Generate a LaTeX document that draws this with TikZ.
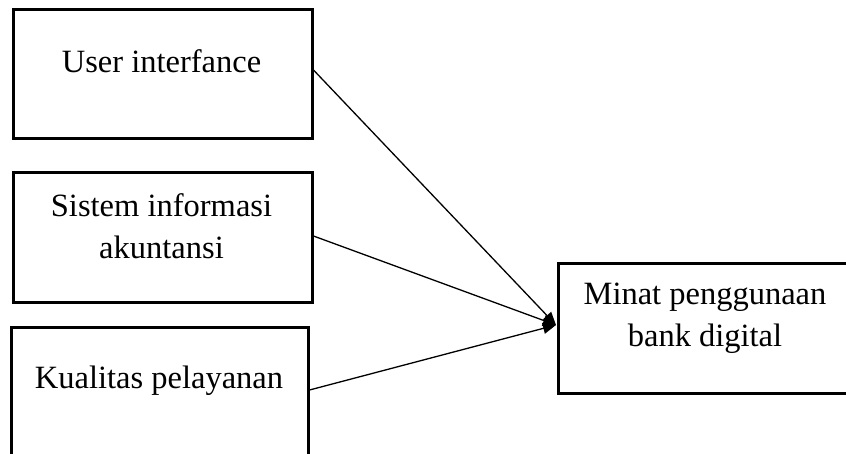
\documentclass[tikz,border=0pt]{standalone}
\usepackage{fontspec}
\setmainfont{Liberation Serif}
\usetikzlibrary{arrows.meta}
\begin{document}
\begin{tikzpicture}[x=1pt,y=-1pt,
  box/.style={draw=black,line width=3pt,rectangle,inner sep=0pt},
  lbl/.style={font=\fontsize{32.5}{42}\selectfont,align=center,inner sep=0pt},
  conn/.style={draw=black,line width=1.3pt,-{Triangle[length=13pt,width=11pt]}}]
\useasboundingbox (0,0) rectangle (846,453);
\clip (0,0) rectangle (846,453);
\node[box,minimum width=299pt,minimum height=129pt] (b1) at (162.5,73.5) {};
\node[box,minimum width=299pt,minimum height=130pt] (b2) at (162.5,237) {};
\node[box,minimum width=297pt,minimum height=143pt] (b3) at (159.5,398.5) {};
\node[box,minimum width=302pt,minimum height=130pt] (b4) at (709,328) {};
\node[lbl,anchor=base] (t1) at (161.5,72) {User interfance};
\node[lbl,anchor=north] (t2) at (161.5,193) {Sistem informasi\\akuntansi};
\node[lbl,anchor=base] (t3) at (159,388) {Kualitas pelayanan};
\node[lbl,anchor=north] (t4) at (705,283) {Minat penggunaan\\bank digital};
\coordinate (tip) at (556,325);
\coordinate (s1) at (b1.east |- 0,70);
\coordinate (s2) at (b2.east |- 0,236);
\coordinate (s3) at (b3.east |- 0,390);
\draw[conn] (s1) -- (tip);
\draw[conn] (s2) -- (tip);
\draw[conn] (s3) -- (tip);
\end{tikzpicture}
\end{document}
